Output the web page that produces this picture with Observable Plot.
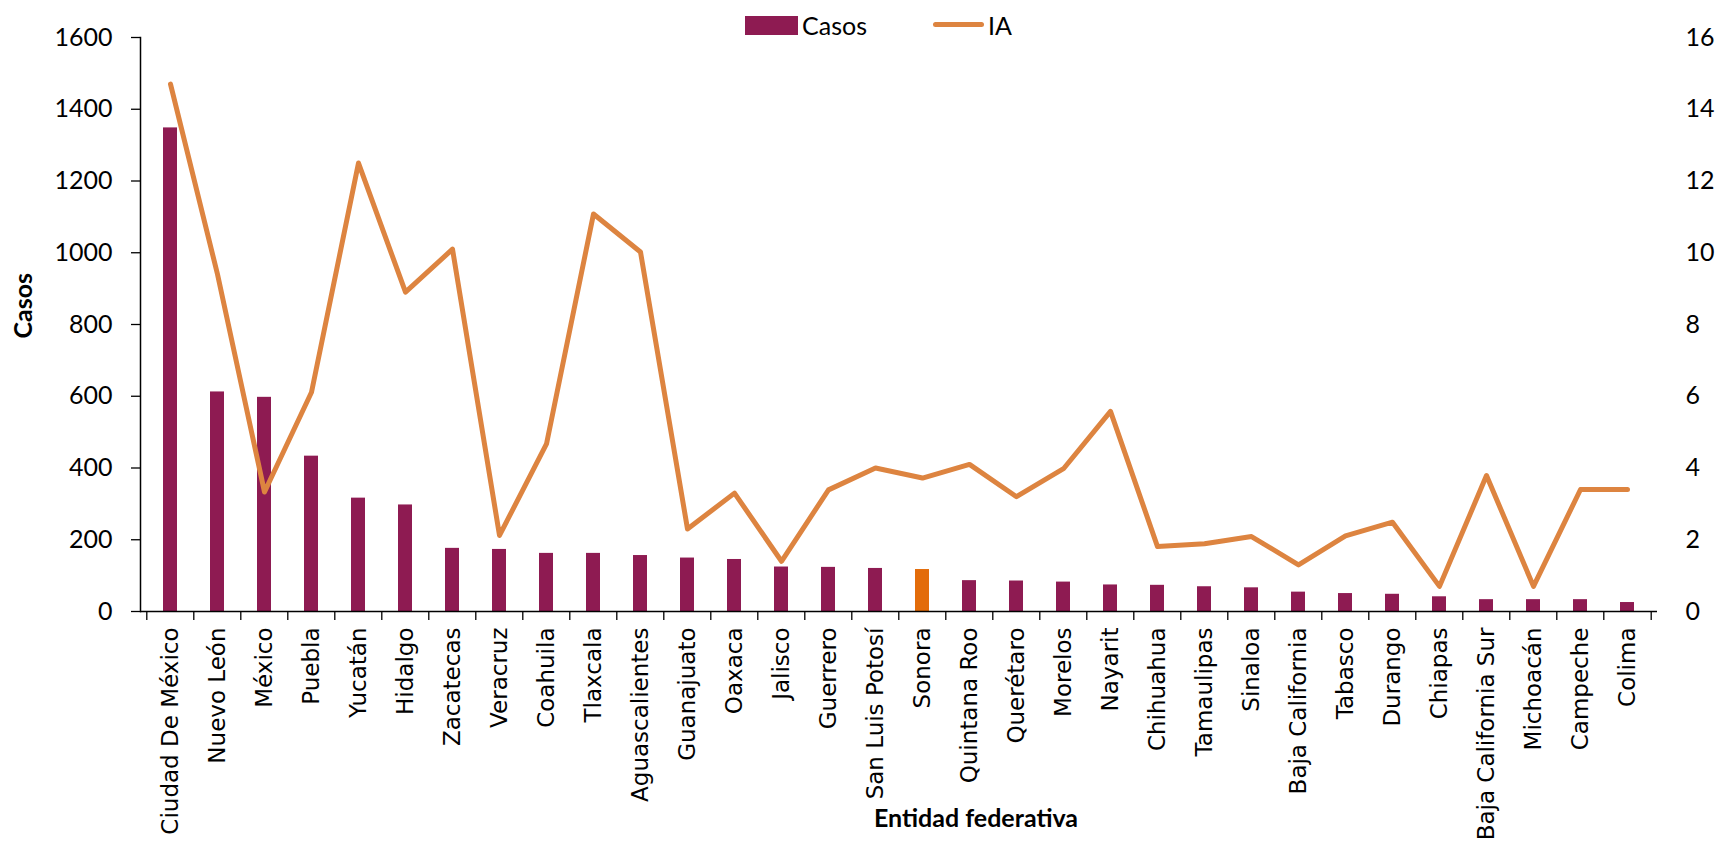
<!DOCTYPE html>
<html>
<head>
<meta charset="utf-8">
<script src="https://cdn.jsdelivr.net/npm/d3@7"></script>
<script src="https://cdn.jsdelivr.net/npm/@observablehq/plot@0.6"></script>
<style>
  body { margin: 0; background: #fff; }
  #wrap { position: relative; width: 1718px; height: 846px; }
  .lg { position: absolute; font-family: Lato, sans-serif; font-size: 25px; color: #000; line-height: 1; }
  g[aria-label="x-axis tick label"] { font-family: "DejaVu Sans", sans-serif !important; font-size: 23px !important; }
</style>
</head>
<body>
<div id="wrap">
  <div class="lg" style="left:745px;top:16px;width:53px;height:19px;background:#8E1B52;"></div>
  <div class="lg" style="left:802px;top:13px;">Casos</div>
  <div class="lg" style="left:933px;top:22px;width:51px;height:5px;border-radius:3px;background:#DD8440;"></div>
  <div class="lg" style="left:988px;top:13px;">IA</div>
</div>
<script>
const entidades = ["Ciudad De México","Nuevo León","México","Puebla","Yucatán","Hidalgo","Zacatecas","Veracruz","Coahuila","Tlaxcala","Aguascalientes","Guanajuato","Oaxaca","Jalisco","Guerrero","San Luis Potosí","Sonora","Quintana Roo","Querétaro","Morelos","Nayarit","Chihuahua","Tamaulipas","Sinaloa","Baja California","Tabasco","Durango","Chiapas","Baja California Sur","Michoacán","Campeche","Colima"];
const casos = [1348,612,597,433,316,297,176,173,162,162,156,149,145,124,123,120,117,86,85,82,74,73,69,66,54,50,48,41,33,33,33,25];
const ia = [14.7,9.4,3.33,6.11,12.5,8.9,10.1,2.12,4.67,11.08,10.02,2.3,3.3,1.4,3.39,4.0,3.72,4.1,3.2,3.98,5.58,1.81,1.89,2.09,1.3,2.11,2.49,0.7,3.79,0.7,3.4,3.4];
const destacado = "Sonora";
const ticksCasos = [0,200,400,600,800,1000,1200,1400,1600];
const ticksIA = [0,2,4,6,8,10,12,14,16];

const W = 1718, H = 846, mL = 140, mR = 61, mT = 37, mB = 235;
const step = (W - mL - mR) / entidades.length;
const data = entidades.map((e, i) => ({entidad: e, casos: casos[i], ia: ia[i]}));
const iaFactor = 1600 / 16;

const chart = Plot.plot({
  width: W, height: H,
  marginLeft: mL, marginRight: mR, marginTop: mT, marginBottom: mB,
  style: {fontFamily: "Lato, sans-serif", fontSize: "25px", color: "#000", background: "#fff"},
  x: {domain: entidades, paddingInner: 0.7, paddingOuter: 0.35, axis: null},
  y: {domain: [0, 1600], axis: null},
  color: {type: "identity"},
  marks: [
    Plot.barY(data, {x: "entidad", y: "casos", fill: d => d.entidad === destacado ? "#E36C0A" : "#8E1B52"}),
    Plot.lineY(data, {x: "entidad", y: d => d.ia * iaFactor, stroke: "#DD8440", strokeWidth: 5, strokeLinejoin: "round", strokeLinecap: "round"}),
    Plot.ruleY([0], {stroke: "#000", strokeWidth: 1.5}),
    Plot.frame({anchor: "left", stroke: "#000", strokeWidth: 1.5}),
    Plot.axisY({ticks: ticksCasos, tickSize: 9, tickPadding: 19, strokeWidth: 1.3, label: null, tickFormat: d => String(d), fontSize: 25}),
    Plot.axisY({anchor: "right", ticks: ticksIA.map(v => v * iaFactor), tickSize: 0, tickPadding: 28, label: null, tickFormat: d => String(d / iaFactor), fontSize: 25}),
    Plot.axisX({tickSize: 9, tickFormat: () => "", dx: -step / 2, strokeWidth: 1.3, label: null}),
    Plot.axisX([entidades[entidades.length - 1]], {tickSize: 9, tickFormat: () => "", dx: step / 2, strokeWidth: 1.3, label: null}),
    Plot.axisX({tickSize: 0, tickPadding: 16, tickRotate: -90, fontFamily: "DejaVu Sans", fontSize: 23, label: null}),
    Plot.text(["Casos"], {frameAnchor: "left", rotate: -90, dx: -117, dy: 14, fontWeight: "bold", fontSize: 25}),
    Plot.text(["Entidad federativa"], {frameAnchor: "bottom", dx: 77, dy: 215, fontWeight: "bold", fontSize: 25})
  ]
});
document.getElementById("wrap").appendChild(chart);
</script>
</body>
</html>
